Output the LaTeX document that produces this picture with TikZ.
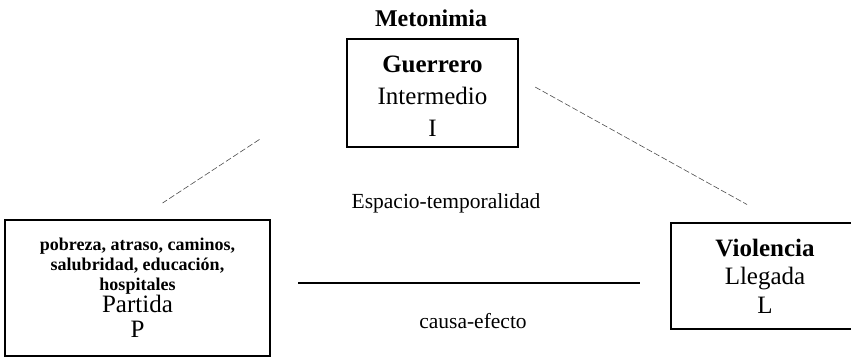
\documentclass[tikz,border=0pt]{standalone}
\usepackage{fontspec}
\setmainfont{Liberation Serif}
\usetikzlibrary{positioning}
\newcommand{\detalle}[1]{{\fontsize{18}{20}\selectfont\bfseries #1}}

\begin{document}
\begin{tikzpicture}[
		x=1pt,y=-1pt,
		caja/.style={draw,line width=1.1pt,align=center,inner sep=0pt},
		etiqueta/.style={inner sep=0pt,anchor=base,font=\fontsize{21.5}{24}\selectfont},
		enlace/.style={draw=black!70,line width=0.6pt,dash pattern=on 6pt off 2.5pt}
		]
		\useasboundingbox (0,0) rectangle (851,358);
		\clip (0,0) rectangle (851,358);
		\node[inner sep=0pt,anchor=base,font=\fontsize{24}{26}\selectfont\bfseries] (titulo) at (431,27) {Metonimia};
		\node[caja,minimum width=171,minimum height=108,font=\fontsize{25}{32}\selectfont] (guerrero) at (432.5,93) {{\bfseries\rule{0pt}{24pt}Guerrero}\\ Intermedio\\ I};
		\node[caja,minimum width=265,minimum height=136,font=\fontsize{25}{25}\selectfont] (partida) at (137.5,288) {\detalle{pobreza, atraso, caminos,}\\[-5pt] \detalle{salubridad, educación,}\\[-5pt] \detalle{hospitales}\\[-3pt] Partida\\ P};
		\node[caja,minimum width=188,minimum height=106,font=\fontsize{25}{28.5}\selectfont] (llegada) at (765,276) {{\bfseries Violencia}\\ Llegada\\ L};
		\node[etiqueta] (espacio) at (446,209) {Espacio-temporalidad};
		\node[etiqueta] (causa) at (473,328) {causa-efecto};
		\coordinate (causa-ini) at (298,283);
		\coordinate (causa-fin) at (640,283);
		\draw[enlace,shorten <=104,shorten >=30] (guerrero.173)--(partida.north);
		\draw[enlace,shorten <=19,shorten >=37] (guerrero.10)--(llegada.75);
		\draw[line width=1.2pt] (causa-ini)--(causa-fin);
	\end{tikzpicture}
\end{document}
